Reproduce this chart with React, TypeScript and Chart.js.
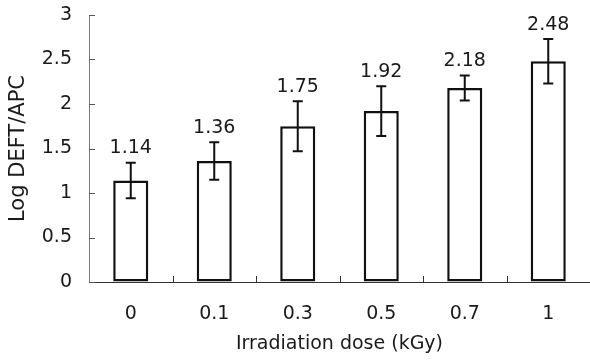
import React, { useEffect, useRef } from "react";
import { Chart, registerables } from "chart.js";

Chart.register(...registerables);

const doses = ["0", "0.1", "0.3", "0.5", "0.7", "1"];
const logValues = [1.14, 1.36, 1.75, 1.92, 2.18, 2.48];
const errors = [0.2, 0.21, 0.28, 0.28, 0.14, 0.25];
const valueLabels = ["1.14", "1.36", "1.75", "1.92", "2.18", "2.48"];
const yTickValues = [0, 0.5, 1, 1.5, 2, 2.5, 3];

const FONT = "'DejaVu Sans', Arial, sans-serif";
const TEXT = "#1a1a1a";

const insideTicks = {
  id: "insideTicks",
  afterDraw(chart: any) {
    const ctx = chart.ctx;
    const x = chart.scales.x;
    const y = chart.scales.y;
    const area = chart.chartArea;
    ctx.save();
    ctx.strokeStyle = "#555";
    ctx.lineWidth = 1;
    yTickValues.forEach((v) => {
      const py = Math.round(y.getPixelForValue(v)) + 0.5;
      ctx.beginPath();
      ctx.moveTo(area.left, py);
      ctx.lineTo(area.left + 6, py);
      ctx.stroke();
    });
    ctx.strokeStyle = "#333";
    for (let i = 1; i < doses.length; i++) {
      const px = Math.round((x.getPixelForValue(i - 1) + x.getPixelForValue(i)) / 2) + 0.5;
      ctx.beginPath();
      ctx.moveTo(px, area.bottom);
      ctx.lineTo(px, area.bottom - 6);
      ctx.stroke();
    }
    ctx.restore();
  },
};

const errorBars = {
  id: "errorBars",
  afterDatasetsDraw(chart: any) {
    const ctx = chart.ctx;
    const y = chart.scales.y;
    const meta = chart.getDatasetMeta(0);
    ctx.save();
    ctx.strokeStyle = "#111";
    ctx.lineWidth = 2;
    ctx.fillStyle = TEXT;
    ctx.font = `19px ${FONT}`;
    ctx.textAlign = "center";
    ctx.textBaseline = "alphabetic";
    meta.data.forEach((bar: any, i: number) => {
      const v = logValues[i];
      const e = errors[i];
      const px = bar.x;
      const top = y.getPixelForValue(v + e);
      const bot = y.getPixelForValue(v - e);
      ctx.beginPath();
      ctx.moveTo(px, top);
      ctx.lineTo(px, bot);
      ctx.moveTo(px - 5, top);
      ctx.lineTo(px + 5, top);
      ctx.moveTo(px - 5, bot);
      ctx.lineTo(px + 5, bot);
      ctx.stroke();
      ctx.fillText(valueLabels[i], px, top - 9.5);
    });
    ctx.restore();
  },
};

export default function App() {
  const ref = useRef<HTMLCanvasElement | null>(null);
  useEffect(() => {
    document.body.style.margin = "0";
    const canvas = ref.current;
    if (!canvas) return;
    Chart.defaults.font.family = FONT;
    const chart = new Chart(canvas, {
      type: "bar",
      data: {
        labels: doses,
        datasets: [
          {
            data: logValues,
            backgroundColor: "#ffffff",
            borderColor: "#111111",
            borderWidth: 2.5,
            borderSkipped: false,
            barPercentage: 0.42,
            categoryPercentage: 1,
          },
        ],
      },
      options: {
        responsive: false,
        animation: false,
        devicePixelRatio: 1,
        layout: { padding: { top: 15, right: 0, left: 0, bottom: 0 } },
        plugins: {
          legend: { display: false },
          tooltip: { enabled: false },
        },
        scales: {
          x: {
            grid: { display: false, drawTicks: false },
            border: { display: true, color: "#333", width: 1 },
            ticks: { color: TEXT, font: { size: 19 }, padding: 21 },
            title: {
              display: true,
              text: "Irradiation dose (kGy)",
              color: TEXT,
              font: { size: 19 },
              padding: { top: 0, bottom: 8 },
            },
            afterFit(scale: any) {
              scale.height = 81;
            },
          },
          y: {
            min: 0,
            max: 3,
            grid: {
              display: true,
              drawOnChartArea: false,
              drawTicks: true,
              tickLength: 17,
              color: "rgba(0,0,0,0)",
            },
            border: { display: true, color: "#777", width: 1 },
            ticks: {
              color: TEXT,
              font: { size: 19 },
              padding: 0,
              stepSize: 0.5,
              callback: (v: any) => String(v),
            },
            title: {
              display: true,
              text: "Log DEFT/APC",
              color: TEXT,
              font: { size: 21 },
              padding: { top: 6, bottom: 0 },
            },
            afterFit(scale: any) {
              scale.width = 89;
            },
          },
        },
      },
      plugins: [insideTicks, errorBars],
    });
    return () => chart.destroy();
  }, []);
  return (
    <div style={{ width: 590, height: 363 }}>
      <canvas ref={ref} width={590} height={363} />
    </div>
  );
}
